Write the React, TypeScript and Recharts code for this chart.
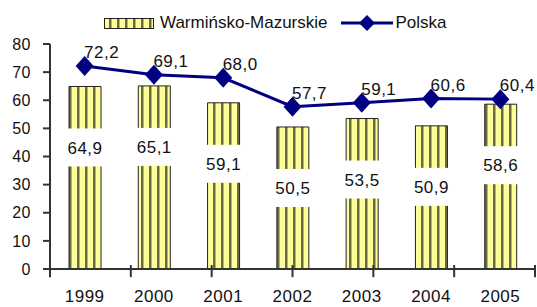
import React from 'react';
import { ComposedChart, Bar, Line, XAxis, YAxis, LabelList, ReferenceLine } from 'recharts';

const years = ['1999', '2000', '2001', '2002', '2003', '2004', '2005'];
const warmMazValues = [64.9, 65.1, 59.1, 50.5, 53.5, 50.9, 58.6];
const polskaValues = [72.2, 69.1, 68.0, 57.7, 59.1, 60.6, 60.4];
const yTicks = [0, 10, 20, 30, 40, 50, 60, 70, 80];
// category boundaries, on a hidden 0..7 axis
const separators = [0, 1, 2, 3, 4, 5, 6, 7];

const chartData = years.map((year, i) => ({
  year,
  region: warmMazValues[i],
  polska: polskaValues[i],
}));

const FONT = '"Liberation Sans", Arial, sans-serif';
const NAVY = '#000080';
const AXIS = '#333333';

const fmt = (v: number) => v.toFixed(1).replace('.', ',');

const StripePattern = ({ id }: { id: string }) => (
  <defs>
    <pattern id={id} width="8" height="8" patternUnits="userSpaceOnUse">
      <rect width="8" height="8" fill="#ffff99" />
      <rect x="5" width="2.5" height="8" fill="#6a6a48" />
    </pattern>
  </defs>
);

const Diamond = (props: any) => {
  const { cx, cy } = props;
  if (cx == null || cy == null) return null;
  return (
    <polygon
      points={`${cx - 9},${cy} ${cx},${cy - 10} ${cx + 9},${cy} ${cx},${cy + 10}`}
      fill={NAVY}
    />
  );
};

const BarValueLabel = (props: any) => {
  const { x, y, width, value } = props;
  const cx = x + width / 2;
  const cy = y + 61;
  return (
    <g>
      <rect x={cx - 21} y={cy - 19} width={42} height={38} fill="#ffffff" />
      <text x={cx} y={cy} dy="0.36em" textAnchor="middle" fontSize={17} fontFamily={FONT} fill="#111" letterSpacing={0.5}>
        {fmt(value)}
      </text>
    </g>
  );
};

const LineValueLabel = (props: any) => {
  const { x, y, value } = props;
  return (
    <text x={x + 17} y={y - 14} dy="0.36em" textAnchor="middle" fontSize={17} fontFamily={FONT} fill="#111" letterSpacing={0.5}>
      {fmt(value)}
    </text>
  );
};

const ChartLegend = () => (
  <div
    style={{
      position: 'absolute',
      left: 104,
      top: 12,
      display: 'flex',
      alignItems: 'center',
      fontFamily: FONT,
      fontSize: 17,
      color: '#111',
      whiteSpace: 'nowrap',
    }}
  >
    <svg width={50} height={11} style={{ display: 'block' }}>
      <StripePattern id="legendStripes" />
      <rect x={0.5} y={0.5} width={49} height={10} fill="url(#legendStripes)" stroke="#222" />
    </svg>
    <span style={{ marginLeft: 6 }}>Warmińsko-Mazurskie</span>
    <svg width={52} height={22} style={{ display: 'block', marginLeft: 13 }}>
      <line x1={0} y1={11} x2={52} y2={11} stroke={NAVY} strokeWidth={3} />
      <polygon points="18,11 26,3 34,11 26,19" fill={NAVY} />
    </svg>
    <span style={{ marginLeft: 3 }}>Polska</span>
  </div>
);

export default function App() {
  return (
    <div style={{ position: 'absolute', left: 0, top: 0, width: 537, height: 307, background: '#fff' }}>
      <ChartLegend />
      <ComposedChart
        width={537}
        height={307}
        data={chartData}
        margin={{ top: 44, right: 2, bottom: 0, left: 0 }}
      >
        <StripePattern id="barStripes" />
        <XAxis
          dataKey="year"
          height={38}
          axisLine={{ stroke: AXIS, strokeWidth: 2 }}
          tickLine={false}
          tickSize={0}
          tickMargin={21}
          interval={0}
          tick={{ fontSize: 17, fontFamily: FONT, fill: '#111', letterSpacing: 0.5 }}
        />
        <XAxis xAxisId="sep" type="number" domain={[0, 7]} hide />
        <YAxis
          width={50}
          domain={[0, 80]}
          ticks={yTicks}
          interval={0}
          allowDataOverflow
          axisLine={{ stroke: AXIS, strokeWidth: 2 }}
          tickLine={{ stroke: AXIS, strokeWidth: 2 }}
          tickSize={7}
          tickMargin={12}
          tick={{ fontSize: 16, fontFamily: FONT, fill: '#111', letterSpacing: 0.5 }}
        />
        {separators.map((s) => (
          <ReferenceLine
            key={s}
            xAxisId="sep"
            segment={[{ x: s, y: 1.4 }, { x: s, y: -2.9 }]}
            stroke={AXIS}
            strokeWidth={2}
            ifOverflow="visible"
          />
        ))}
        <Bar
          dataKey="region"
          barSize={32}
          fill="url(#barStripes)"
          stroke="#222"
          strokeWidth={1}
          isAnimationActive={false}
        >
          <LabelList dataKey="region" content={<BarValueLabel />} />
        </Bar>
        <Line
          dataKey="polska"
          stroke={NAVY}
          strokeWidth={3}
          dot={<Diamond />}
          activeDot={false}
          isAnimationActive={false}
        >
          <LabelList dataKey="polska" content={<LineValueLabel />} />
        </Line>
      </ComposedChart>
    </div>
  );
}
